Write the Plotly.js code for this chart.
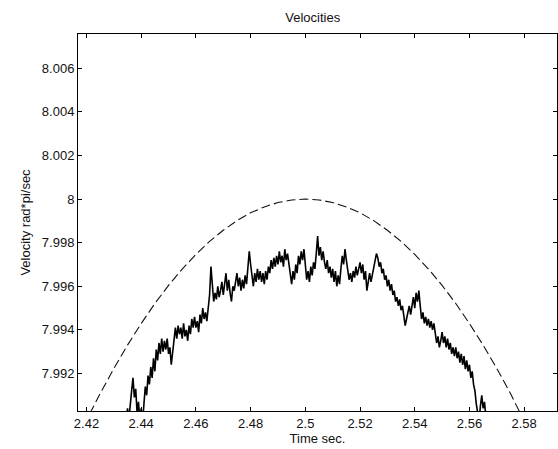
<!DOCTYPE html>
<html>
<head>
<meta charset="utf-8">
<script src="https://cdn.plot.ly/plotly-3.0.1.min.js"></script>
<style>html,body{margin:0;padding:0;background:#fff;}#chart{width:558px;height:449px;}</style>
</head>
<body>
<div id="chart"></div>
<script>
// Reference (dashed) curve
const refTime = [2.415, 2.420, 2.425, 2.430, 2.435, 2.440, 2.445, 2.450, 2.455, 2.460,
  2.465, 2.470, 2.475, 2.480, 2.485, 2.490, 2.495, 2.500, 2.505, 2.510, 2.515, 2.520,
  2.525, 2.530, 2.535, 2.540, 2.545, 2.550, 2.555, 2.560, 2.565, 2.570, 2.575, 2.580, 2.585];
const refVelocity = [7.98855, 7.98986, 7.99108, 7.99223, 7.99330, 7.99429, 7.99521, 7.99604,
  7.99679, 7.99746, 7.99806, 7.99857, 7.99901, 7.99937, 7.99964, 7.99984, 7.99996, 8.00000,
  7.99996, 7.99984, 7.99964, 7.99937, 7.99901, 7.99857, 7.99806, 7.99746, 7.99679, 7.99604,
  7.99521, 7.99429, 7.99330, 7.99223, 7.99108, 7.98986, 7.98855];

// Measured (noisy) velocity, sampled every 0.0005 s starting at 2.4345 s
const measStart = 2.4345;
const measStep = 0.0005;
const measVelocity = [
  7.9898, 7.9904, 7.9899, 7.9907, 7.9912, 7.9918, 7.9909, 7.9913, 7.9902, 7.9907,
  7.9899, 7.9904, 7.9897, 7.9906, 7.9914, 7.9910, 7.9919, 7.9915, 7.9923, 7.9918,
  7.9927, 7.9921, 7.9931, 7.9926, 7.9934, 7.9929, 7.9936, 7.9930, 7.9935, 7.9931,
  7.9936, 7.9929, 7.9932, 7.9924, 7.9930, 7.9935, 7.9941, 7.9936, 7.9942, 7.9938,
  7.9941, 7.9936, 7.9943, 7.9937, 7.9940, 7.9935, 7.9942, 7.9938, 7.9945, 7.9941,
  7.9946, 7.9941, 7.9944, 7.9939, 7.9947, 7.9943, 7.9950, 7.9945, 7.9948, 7.9944,
  7.9950, 7.9956, 7.9969, 7.9958, 7.9953, 7.9957, 7.9954, 7.9960, 7.9955, 7.9958,
  7.9962, 7.9956, 7.9961, 7.9966, 7.9958, 7.9963, 7.9957, 7.9953, 7.9960, 7.9958,
  7.9962, 7.9966, 7.9960, 7.9964, 7.9958, 7.9963, 7.9959, 7.9965, 7.9961, 7.9968,
  7.9976, 7.9970, 7.9965, 7.9960, 7.9966, 7.9962, 7.9968, 7.9963, 7.9967, 7.9962,
  7.9966, 7.9961, 7.9967, 7.9963, 7.9969, 7.9966, 7.9972, 7.9968, 7.9973, 7.9969,
  7.9974, 7.9970, 7.9976, 7.9971, 7.9974, 7.9969, 7.9977, 7.9972, 7.9975, 7.9970,
  7.9964, 7.9961, 7.9967, 7.9963, 7.9970, 7.9966, 7.9974, 7.9970, 7.9976, 7.9972,
  7.9977, 7.9968, 7.9963, 7.9967, 7.9962, 7.9969, 7.9965, 7.9971, 7.9968, 7.9975,
  7.9983, 7.9974, 7.9978, 7.9972, 7.9976, 7.9971, 7.9968, 7.9972, 7.9966, 7.9969,
  7.9964, 7.9968, 7.9962, 7.9967, 7.9960, 7.9965, 7.9961, 7.9968, 7.9974, 7.9970,
  7.9977, 7.9972, 7.9968, 7.9963, 7.9966, 7.9962, 7.9967, 7.9964, 7.9969, 7.9965,
  7.9968, 7.9971, 7.9966, 7.9970, 7.9963, 7.9967, 7.9958, 7.9963, 7.9966, 7.9962,
  7.9965, 7.9968, 7.9972, 7.9975, 7.9973, 7.9969, 7.9971, 7.9966, 7.9968, 7.9963,
  7.9965, 7.9960, 7.9963, 7.9958, 7.9961, 7.9956, 7.9958, 7.9953, 7.9955, 7.9951,
  7.9954, 7.9949, 7.9951, 7.9946, 7.9942, 7.9945, 7.9948, 7.9951, 7.9947, 7.9952,
  7.9955, 7.9950, 7.9957, 7.9953, 7.9958, 7.9951, 7.9945, 7.9948, 7.9943, 7.9946,
  7.9942, 7.9945, 7.9941, 7.9944, 7.9940, 7.9943, 7.9938, 7.9934, 7.9937, 7.9932,
  7.9935, 7.9939, 7.9934, 7.9937, 7.9932, 7.9936, 7.9931, 7.9934, 7.9929, 7.9932,
  7.9928, 7.9932, 7.9927, 7.9930, 7.9925, 7.9929, 7.9924, 7.9928, 7.9922, 7.9926,
  7.9921, 7.9924, 7.9918, 7.9921, 7.9915, 7.9912, 7.9906, 7.9901, 7.9898, 7.9905,
  7.9910, 7.9904, 7.9907, 7.9900
];
const measTime = measVelocity.map((_, i) => +(measStart + i * measStep).toFixed(5));

// Tick labels
const xTickVals = [2.42, 2.44, 2.46, 2.48, 2.50, 2.52, 2.54, 2.56, 2.58];
const xTickText = ['2.42', '2.44', '2.46', '2.48', '2.5', '2.52', '2.54', '2.56', '2.58'];
const yTickVals = [7.992, 7.994, 7.996, 7.998, 8.000, 8.002, 8.004, 8.006];
const yTickText = ['7.992', '7.994', '7.996', '7.998', '8', '8.002', '8.004', '8.006'];

const FONT = 'Liberation Sans, Arial, Helvetica, sans-serif';

const traces = [
  {
    x: refTime, y: refVelocity, type: 'scatter', mode: 'lines',
    line: {color: '#111', width: 1.1, dash: '9px,4px'},
    hoverinfo: 'skip'
  },
  {
    x: measTime, y: measVelocity, type: 'scatter', mode: 'lines',
    line: {color: '#000', width: 1.6},
    hoverinfo: 'skip'
  }
];

const axisCommon = {
  showline: true, linecolor: '#000', linewidth: 1, mirror: 'ticks',
  ticks: 'inside', ticklen: 4, tickcolor: '#000', tickwidth: 1,
  showgrid: false, zeroline: false,
  tickfont: {family: FONT, size: 13, color: '#111'},
  tickmode: 'array'
};

const layout = {
  width: 558, height: 449,
  margin: {l: 78, r: 1, t: 34, b: 38},
  paper_bgcolor: '#fff', plot_bgcolor: '#fff',
  showlegend: false,
  font: {family: FONT, size: 13, color: '#111'},
  title: {text: 'Velocities', font: {family: FONT, size: 13, color: '#111'},
          xref: 'paper', x: 0.49, xanchor: 'center', yref: 'container', y: 0.962, yanchor: 'middle'},
  xaxis: Object.assign({}, axisCommon, {
    range: [2.4169, 2.592], tickvals: xTickVals, ticktext: xTickText,
    title: {text: 'Time sec.', font: {family: FONT, size: 13, color: '#111'}, standoff: 2}
  }),
  yaxis: Object.assign({}, axisCommon, {
    range: [7.99028, 8.00757], tickvals: yTickVals, ticktext: yTickText,
    title: {text: 'Velocity rad*pi/sec', font: {family: FONT, size: 13, color: '#111'}, standoff: 8}
  })
};

Plotly.newPlot('chart', traces, layout, {displayModeBar: false, staticPlot: true});
</script>
</body>
</html>
